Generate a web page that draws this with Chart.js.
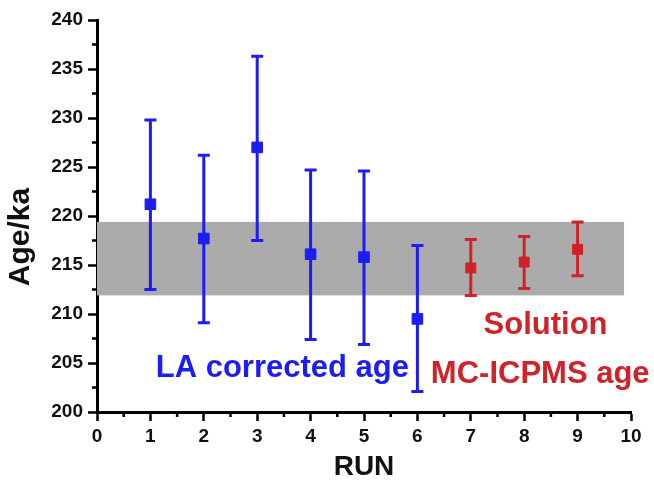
<!DOCTYPE html>
<html lang="en">
  <head>
    <meta charset="UTF-8">
    <title>Age vs RUN</title>
    <script src="https://cdn.jsdelivr.net/npm/chart.js@4.4.0/dist/chart.umd.min.js"></script>
    <style>
      html, body { margin: 0; padding: 0; background: #fff; }
      #wrap { width: 654px; height: 481px; }
    </style>
  </head>
  <body>
<div id="wrap"><canvas id="ageChart"></canvas></div>
<script>
// LA corrected ages (runs 1-6)
var runsLA = [1, 2, 3, 4, 5, 6];
var ageLA  = [221.2, 217.7, 227.0, 216.1, 215.8, 209.5];
var highLA = [229.8, 226.2, 236.3, 224.7, 224.6, 217.0];
var lowLA  = [212.5, 209.1, 217.5, 207.4, 206.9, 202.1];

// solution MC-ICPMS ages (runs 7-9)
var runsSol = [7, 8, 9];
var ageSol  = [214.7, 215.3, 216.6];
var highSol = [217.6, 217.9, 219.4];
var lowSol  = [211.9, 212.6, 213.9];

// grey reference band
var bandLow = 211.9;
var bandHigh = 219.4;
var bandEnd = 9.87;

var xTicks = [0, 1, 2, 3, 4, 5, 6, 7, 8, 9, 10];
var yTicks = [200, 205, 210, 215, 220, 225, 230, 235, 240];

var blue = 'rgb(28,28,245)';
var red = 'rgb(208,34,40)';
var FONT = '"Liberation Sans", Arial, sans-serif';

function toPoints(xs, ys) {
  return xs.map(function(x, i) { return {x: x, y: ys[i]}; });
}

// band, error bars, minor ticks, y title and the two text labels
var extras = {
  id: 'extras',
  beforeDatasetsDraw: function(chart) {
    var ctx = chart.ctx, xs = chart.scales.x, ys = chart.scales.y;
    ctx.save();
    ctx.fillStyle = '#ababab';
    var x0 = xs.getPixelForValue(0), x1 = xs.getPixelForValue(bandEnd);
    var y0 = ys.getPixelForValue(bandHigh), y1 = ys.getPixelForValue(bandLow);
    ctx.fillRect(x0, y0, x1 - x0, y1 - y0);

    function bars(xArr, hi, lo, color) {
      ctx.strokeStyle = color;
      ctx.lineWidth = 3;
      for (var i = 0; i < xArr.length; i++) {
        var px = xs.getPixelForValue(xArr[i]);
        var pt = ys.getPixelForValue(hi[i]), pb = ys.getPixelForValue(lo[i]);
        ctx.beginPath();
        ctx.moveTo(px, pt); ctx.lineTo(px, pb);
        ctx.moveTo(px - 6, pt); ctx.lineTo(px + 6, pt);
        ctx.moveTo(px - 6, pb); ctx.lineTo(px + 6, pb);
        ctx.stroke();
      }
    }
    bars(runsLA, highLA, lowLA, blue);
    bars(runsSol, highSol, lowSol, red);
    ctx.restore();
  },
  afterDraw: function(chart) {
    var ctx = chart.ctx, xs = chart.scales.x, ys = chart.scales.y;
    ctx.save();
    // minor ticks
    ctx.strokeStyle = '#000';
    ctx.lineWidth = 2.5;
    ctx.beginPath();
    for (var v = 0.5; v < 10; v += 1) {
      var px = xs.getPixelForValue(v);
      ctx.moveTo(px, chart.chartArea.bottom);
      ctx.lineTo(px, chart.chartArea.bottom + 5);
    }
    for (var w = 202.5; w < 240; w += 5) {
      var py = ys.getPixelForValue(w);
      ctx.moveTo(chart.chartArea.left, py);
      ctx.lineTo(chart.chartArea.left - 5, py);
    }
    ctx.stroke();

    // y axis title
    ctx.fillStyle = '#111';
    ctx.font = 'bold 30px ' + FONT;
    ctx.textAlign = 'center';
    ctx.textBaseline = 'middle';
    ctx.translate(21, 237);
    ctx.rotate(-Math.PI / 2);
    ctx.fillText('Age/ka', 0, 0);
    ctx.setTransform(1, 0, 0, 1, 0, 0);

    ctx.font = 'bold 31px ' + FONT;
    ctx.textBaseline = 'alphabetic';
    ctx.textAlign = 'left';
    ctx.fillStyle = blue;
    ctx.fillText('LA corrected age', xs.getPixelForValue(1.1), ys.getPixelForValue(203.6));
    ctx.textAlign = 'center';
    ctx.fillStyle = red;
    ctx.fillText('Solution', xs.getPixelForValue(8.4), ys.getPixelForValue(208.0));
    ctx.fillText('MC-ICPMS age', xs.getPixelForValue(8.3), ys.getPixelForValue(203.0));
    ctx.restore();
  }
};

var ctx = document.getElementById('ageChart').getContext('2d');
var chart = new Chart(ctx, {
  type: 'scatter',
  data: {
    datasets: [
      {
        label: 'LA corrected age',
        data: toPoints(runsLA, ageLA),
        backgroundColor: blue,
        borderColor: blue,
        pointStyle: 'rect',
        pointRadius: 7.5,
        borderWidth: 1
      },
      {
        label: 'Solution MC-ICPMS age',
        data: toPoints(runsSol, ageSol),
        backgroundColor: red,
        borderColor: red,
        pointStyle: 'rect',
        pointRadius: 7,
        borderWidth: 1
      }
    ]
  },
  options: {
    responsive: true,
    maintainAspectRatio: false,
    animation: false,
    layout: { padding: { top: 20, right: 23, left: 0, bottom: 0 } },
    plugins: {
      legend: { display: false },
      tooltip: { enabled: false }
    },
    scales: {
      x: {
        type: 'linear',
        min: 0,
        max: 10,
        afterFit: function(s) { s.height = 69; },
        afterBuildTicks: function(s) { s.ticks = xTicks.map(function(v) { return {value: v}; }); },
        border: { display: true, width: 3, color: '#000' },
        grid: { drawOnChartArea: false, tickLength: 9, tickWidth: 2.5, tickColor: '#000' },
        ticks: { color: '#111', padding: 4, font: { family: FONT, size: 19, weight: 'bold' } },
        title: {
          display: true,
          text: 'RUN',
          color: '#111',
          padding: 0,
          font: { family: FONT, size: 28, weight: 'bold', lineHeight: 1 }
        }
      },
      y: {
        type: 'linear',
        min: 200,
        max: 240,
        afterFit: function(s) { s.width = 97; },
        afterBuildTicks: function(s) { s.ticks = yTicks.map(function(v) { return {value: v}; }); },
        border: { display: true, width: 3, color: '#000' },
        grid: { drawOnChartArea: false, tickLength: 9, tickWidth: 2.5, tickColor: '#000' },
        ticks: { color: '#111', padding: 5, font: { family: FONT, size: 19, weight: 'bold' } }
      }
    }
  },
  plugins: [extras]
});
</script>
  </body>
</html>
